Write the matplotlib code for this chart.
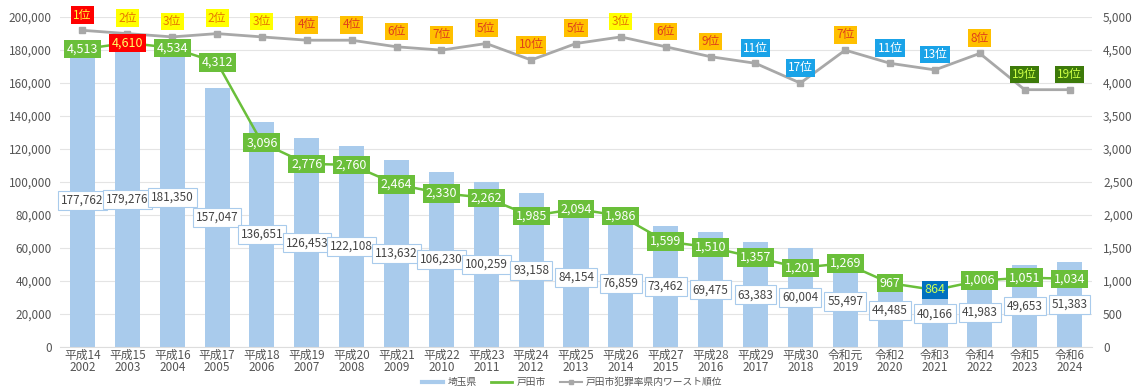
import matplotlib
matplotlib.use("Agg")
import matplotlib.pyplot as plt
from matplotlib.ticker import FuncFormatter, MultipleLocator
from matplotlib.lines import Line2D
import numpy as np

plt.rcParams['font.family'] = ['Noto Sans CJK JP', 'DejaVu Sans']

eras = ['平成14', '平成15', '平成16', '平成17', '平成18', '平成19', '平成20', '平成21',
        '平成22', '平成23', '平成24', '平成25', '平成26', '平成27', '平成28', '平成29',
        '平成30', '令和元', '令和2', '令和3', '令和4', '令和5', '令和6']
years = list(range(2002, 2025))

# 埼玉県 刑法犯認知件数
saitama = [177762, 179276, 181350, 157047, 136651, 126453, 122108, 113632, 106230,
           100259, 93158, 84154, 76859, 73462, 69475, 63383, 60004, 55497, 44485,
           40166, 41983, 49653, 51383]
# 戸田市 刑法犯認知件数
toda = [4513, 4610, 4534, 4312, 3096, 2776, 2760, 2464, 2330, 2262, 1985, 2094, 1986,
        1599, 1510, 1357, 1201, 1269, 967, 864, 1006, 1051, 1034]
# 戸田市犯罪率 県内ワースト順位
rank = [1, 2, 3, 2, 3, 4, 4, 6, 7, 5, 10, 5, 3, 6, 9, 11, 17, 7, 11, 13, 8, 19, 19]

bar_c = '#a9cbec'
green = '#6abf3a'
grey = '#a8a8a8'

fig = plt.figure(figsize=(11.37, 3.89), dpi=100)
ax = fig.add_axes([0.0528, 0.108, 0.9076, 0.848])
ax2 = ax.twinx()

x = np.arange(len(years))
ax.bar(x, saitama, width=0.56, color=bar_c, zorder=2)
ax.set_ylim(0, 200000)
ax.set_xlim(-0.5, len(years) - 0.5)
ax.yaxis.set_major_locator(MultipleLocator(20000))
ax.yaxis.set_major_formatter(FuncFormatter(lambda v, p: f'{int(v):,}'))
ax.grid(axis='y', color='#e4e4e4', lw=0.8, zorder=0)
ax.set_axisbelow(True)
ax.set_xticks(x)
ax.set_xticklabels([f'{e}\n{y}' for e, y in zip(eras, years)], linespacing=0.85)

for a in (ax, ax2):
    for s in a.spines.values():
        s.set_visible(False)
    a.tick_params(length=0, labelsize=8.5, colors='#555555')
ax.tick_params(axis='x', pad=1.5)
ax.tick_params(axis='y', pad=6)
ax2.tick_params(axis='y', pad=8)
ax.spines['bottom'].set_visible(True)
ax.spines['bottom'].set_color('#dddddd')

# bar value boxes at half bar height
for i, v in enumerate(saitama):
    ax.text(i, v / 2, f'{v:,}', ha='center', va='center', fontsize=8.5, color='#444444',
            zorder=3, bbox=dict(boxstyle='square,pad=0.25', fc='white', ec='#a9cbec', lw=0.8))

ax2.set_ylim(0, 5000)
ax2.yaxis.set_major_locator(MultipleLocator(500))
ax2.yaxis.set_major_formatter(FuncFormatter(lambda v, p: f'{int(v):,}'))

# ranking line sits on the right scale: rank 1 -> 4800, each rank step -> 50
rank_y = [4850 - 50 * r for r in rank]
ax2.plot(x, rank_y, color=grey, lw=2, marker='s', ms=5, zorder=3)
ax2.plot(x, toda, color=green, lw=1.8, zorder=4)


def rank_style(r):
    if r == 1:
        return '#ff0000', '#ffff33'
    if r <= 3:
        return '#ffff00', '#e67800'
    if r <= 10:
        return '#ffc000', '#e0401a'
    if r <= 17:
        return '#1aa3e8', 'white'
    return '#3d7a0a', '#ccff44'


for i, (r, ry) in enumerate(zip(rank, rank_y)):
    fc, tc = rank_style(r)
    ax2.annotate(f'{r}位', (i, ry), xytext=(0, 11), textcoords='offset points',
                 ha='center', va='center', fontsize=8.5, color=tc, zorder=6,
                 bbox=dict(boxstyle='square,pad=0.2', fc=fc, ec='none'))

imax = int(np.argmax(toda))
imin = int(np.argmin(toda))
for i, v in enumerate(toda):
    if i == imax:
        fc, tc = '#ff0000', '#ffff66'
    elif i == imin:
        fc, tc = '#0070c0', '#ccff55'
    else:
        fc, tc = green, 'white'
    ax2.text(i, v, f'{v:,}', ha='center', va='center', fontsize=9, color=tc,
             zorder=7, bbox=dict(boxstyle='square,pad=0.22', fc=fc, ec='none'))

handles = [Line2D([], [], color=bar_c, lw=3),
           Line2D([], [], color=green, lw=2),
           Line2D([], [], color=grey, lw=1.5, marker='s', ms=3)]
fig.legend(handles, ['埼玉県', '戸田市', '戸田市犯罪率県内ワースト順位'], loc='center',
           bbox_to_anchor=(0.503, 0.018), ncol=3, frameon=False, fontsize=7,
           handlelength=2.2, columnspacing=1.5, labelcolor='#555555',
           borderpad=0, handletextpad=0.4)

fig.savefig('out.png', dpi=100)
